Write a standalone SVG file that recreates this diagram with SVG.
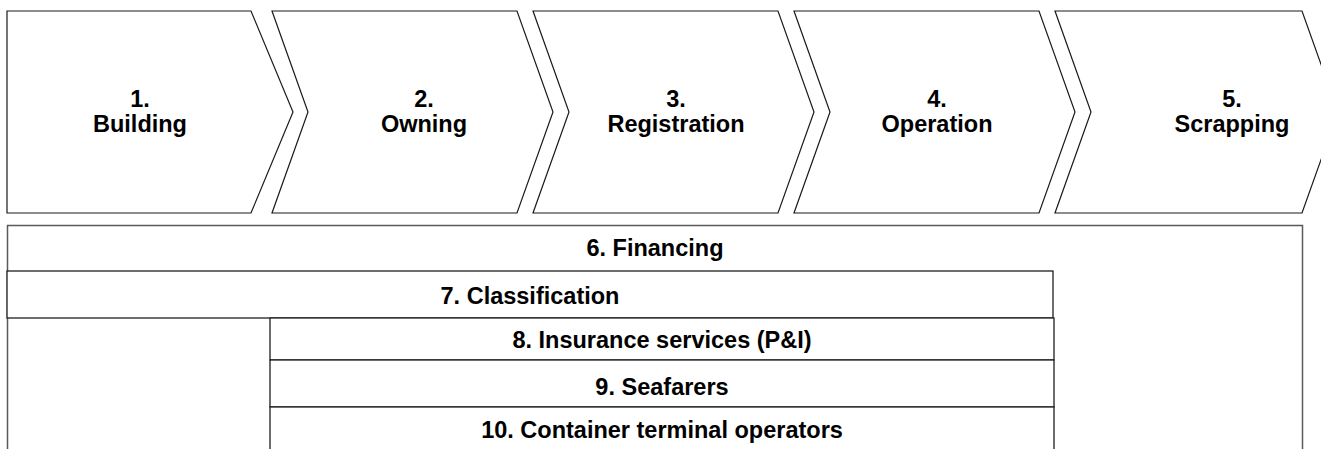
<svg xmlns="http://www.w3.org/2000/svg" width="1321" height="449" viewBox="0 0 1321 449">
<style>
.chev{fill:#ffffff;stroke:#1a1a1a;stroke-width:1.2;stroke-linejoin:miter}
.band{fill:#ffffff;stroke:#1f1f1f;stroke-width:1.3}
.fin{fill:#ffffff;stroke:#5a5a5a;stroke-width:1.5}
.t{font-family:"Liberation Sans",Arial,sans-serif;font-weight:bold;font-size:23.5px;fill:#000000;text-anchor:middle}
</style>
<rect x="0" y="0" width="1321" height="449" fill="#ffffff"/>
<g id="n6">
<rect class="fin" x="7.5" y="225.5" width="1295" height="240"/>
<text class="t" x="655" y="256">6. Financing</text>
</g>
<g id="n7">
<rect class="band" x="7" y="271" width="1046" height="47"/>
<text class="t" x="530" y="304">7. Classification</text>
</g>
<g id="n8">
<rect class="band" x="270" y="318" width="784" height="42"/>
<text class="t" x="662" y="348">8. Insurance services (P&amp;I)</text>
</g>
<g id="n9">
<rect class="band" x="270" y="360" width="784" height="47"/>
<text class="t" x="662" y="395">9. Seafarers</text>
</g>
<g id="n10">
<rect class="band" x="270" y="407" width="784" height="60"/>
<text class="t" x="662" y="438">10. Container terminal operators</text>
</g>
<g id="n1">
<polygon class="chev" points="7,11 251,11 293,112 251,213 7,213"/>
<text class="t" x="140" y="107">1.</text>
<text class="t" x="140" y="132">Building</text>
</g>
<g id="n2">
<polygon class="chev" points="272,11 517,11 553,112 517,213 272,213 308,112"/>
<text class="t" x="424" y="107">2.</text>
<text class="t" x="424" y="132">Owning</text>
</g>
<g id="n3">
<polygon class="chev" points="533,11 778,11 814,112 778,213 533,213 569,112"/>
<text class="t" x="676" y="107">3.</text>
<text class="t" x="676" y="132">Registration</text>
</g>
<g id="n4">
<polygon class="chev" points="794,11 1039,11 1075,112 1039,213 794,213 830,112"/>
<text class="t" x="937" y="107">4.</text>
<text class="t" x="937" y="132">Operation</text>
</g>
<g id="n5">
<polygon class="chev" points="1055,11 1302,11 1338,112 1302,213 1055,213 1091,112"/>
<text class="t" x="1232" y="107">5.</text>
<text class="t" x="1232" y="132">Scrapping</text>
</g>
<g id="connectors"></g>
</svg>
